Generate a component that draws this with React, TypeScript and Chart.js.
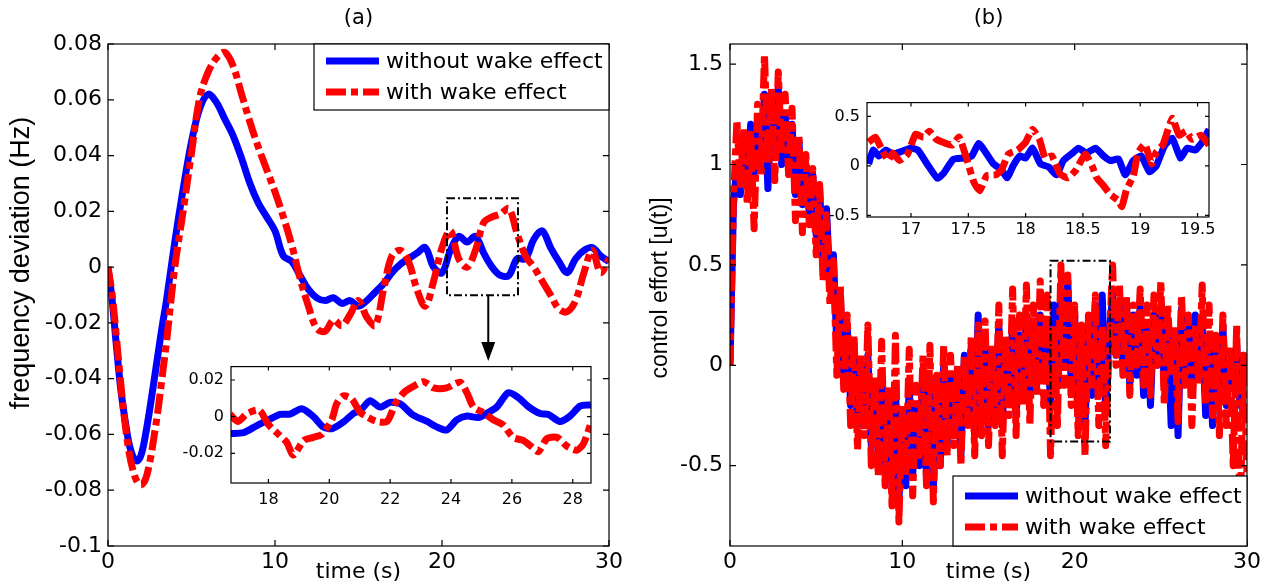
import React, { useEffect, useRef } from "react";
import { Chart, registerables } from "chart.js";

Chart.register(...registerables);

const SANS = "'DejaVu Sans', 'Liberation Sans', sans-serif";
const LABEL_FONT = "'Liberation Sans', Arial, sans-serif";
const BLUE = "#0000ff";
const RED = "#ff0000";
const DASH_DOT = [20, 5, 7, 5];

const SERIES_NAMES = ["without wake effect", "with wake effect"];

// ---------- (a) frequency deviation, full run ----------
const timeA = [
  0, 0.25, 0.5, 0.75, 1, 1.25, 1.5, 1.75, 2, 2.25, 2.5, 2.75, 3, 3.25, 3.5,
  4, 4.5, 5, 5.5, 6, 6.5, 7, 7.5, 8, 8.5, 9, 9.5, 10, 10.5, 11, 11.5, 12,
  12.5, 13, 13.5, 14, 14.5, 15, 15.5, 16, 16.5, 17, 17.5, 18, 18.5, 19, 19.5,
  20, 20.5, 21, 21.5, 22, 22.5, 23, 23.5, 24, 24.5, 25, 25.5, 26, 26.5, 27,
  27.5, 28, 28.5, 29, 29.5, 30,
];
const freqWithout = [
  0, -0.012, -0.028, -0.043, -0.054, -0.063, -0.068, -0.0695, -0.067, -0.06,
  -0.051, -0.041, -0.031, -0.021, -0.012, 0.009, 0.028, 0.045, 0.057, 0.062,
  0.059, 0.053, 0.047, 0.039, 0.03, 0.023, 0.018, 0.013, 0.004, 0.002, -0.003,
  -0.008, -0.011, -0.012, -0.011, -0.013, -0.012, -0.014, -0.012, -0.009,
  -0.006, -0.002, 0.001, 0.003, 0.005, 0.007, 0.0, -0.002, 0.006, 0.011,
  0.009, 0.011, 0.005, 0.0, -0.003, -0.003, 0.003, 0.003, 0.01, 0.013, 0.007,
  0.002, -0.002, 0.003, 0.006, 0.007, 0.004, 0.002,
];
const freqWith = [
  0, -0.01, -0.025, -0.041, -0.055, -0.066, -0.073, -0.077, -0.078, -0.076,
  -0.07, -0.061, -0.051, -0.039, -0.027, 0.0, 0.02, 0.041, 0.061, 0.07,
  0.075, 0.077, 0.072, 0.062, 0.052, 0.043, 0.035, 0.027, 0.018, 0.008,
  -0.004, -0.014, -0.022, -0.023, -0.019, -0.021, -0.017, -0.012, -0.018,
  -0.021, -0.008, 0.004, 0.006, 0.002, -0.008, -0.014, -0.005, 0.007, 0.013,
  0.003, 0.0, 0.006, 0.016, 0.018, 0.019, 0.021, 0.012, 0.004, 0.0, -0.005,
  -0.01, -0.015, -0.016, -0.012, -0.002, 0.006, -0.002, 0.003,
];
// window marked on the main plot: [t0, t1, top, bottom]
const zoomWindowA = [20.3, 24.55, 0.0247, -0.0101];
const arrowA = { t: 22.77, from: -0.0101, to: -0.0337 };

// ---------- (a) inset ----------
const insetTimeWithoutA = [
  16.74, 17.18, 17.62, 18.0, 18.38, 18.71, 19.1, 19.48, 19.8, 20.08, 20.46,
  20.79, 21.07, 21.34, 21.67, 22.0, 22.33, 22.76, 23.2, 23.53, 23.86, 24.19,
  24.52, 24.9, 25.17, 25.5, 25.88, 26.21, 26.54, 26.93, 27.2, 27.58, 27.91,
  28.24, 28.6,
];
const insetFreqWithout = [
  -0.0092, -0.0087, -0.0049, -0.0018, 0.0012, 0.0014, 0.0043, 0, -0.0056,
  -0.0066, -0.003, 0.0017, 0.0043, 0.0087, 0.0052, 0.0078, 0.007, 0.0008,
  -0.0025, -0.0056, -0.0073, -0.0018, 0.0003, -0.0005, 0.0017, 0.0052, 0.013,
  0.0104, 0.0055, 0.0017, 0.0012, -0.0026, 0.0003, 0.0057, 0.0064,
];
const insetTimeWithA = [
  16.74, 17.0, 17.3, 17.7, 18.0, 18.38, 18.6, 18.82, 19.16, 19.48, 19.76,
  20.08, 20.24, 20.46, 20.74, 21.0, 21.23, 21.56, 21.9, 22.17, 22.45, 22.76,
  23.1, 23.43, 23.86, 24.3, 24.52, 24.74, 25.07, 25.4, 25.7, 26.04, 26.37,
  26.65, 26.87, 27.15, 27.48, 27.8, 28.13, 28.35, 28.6,
];
const insetFreqWith = [
  0.0012, -0.0026, 0.0017, 0.0035, -0.0043, -0.0104, -0.014, -0.021, -0.013,
  -0.0113, -0.0096, -0.0018, 0.0069, 0.0113, 0.0096, 0.0026, 0, -0.0026,
  -0.0026, 0.007, 0.0131, 0.0165, 0.0191, 0.0157, 0.0157, 0.0188, 0.0131,
  0.0052, 0.0021, -0.0018, -0.0043, -0.0113, -0.013, -0.0165, -0.0191, -0.012,
  -0.0113, -0.016, -0.0183, -0.0148, -0.0035,
];

// ---------- (b) control effort, sampled every 0.2 s ----------
const SAMPLE_STEP_B = 0.2;
const effortWithout = [
  0, 0.8, 1.0, 0.85, 1.1, 0.9, 1.2, 0.95, 1.18, 1.0,
  1.35, 0.88, 1.3, 1.05, 1.38, 1.0, 1.25, 1.0, 1.2, 0.85,
  1.12, 0.8, 1.0, 0.75, 0.95, 0.65, 0.88, 0.5, 0.78, 0.4,
  0.55, 0.1, 0.35, -0.05, 0.2, -0.2, 0.1, -0.3, 0.0, -0.25,
  0.05, -0.4, -0.1, -0.45, -0.05, -0.55, -0.2, -0.6, -0.1, -0.68,
  -0.3, -0.6, -0.1, -0.55, -0.2, -0.5, -0.05, -0.55, -0.1, -0.62,
  -0.15, -0.5, 0.0, -0.4, -0.05, -0.35, -0.1, -0.45, 0.05, -0.25,
  0.1, -0.35, 0.25, -0.2, 0.15, -0.3, 0.05, -0.2, 0.2, -0.3,
  0.1, -0.15, 0.2, -0.25, 0.15, -0.1, 0.25, -0.15, 0.2, -0.1,
  0.25, -0.05, 0.2, -0.2, 0.3, -0.1, 0.35, 0.0, 0.42, -0.1,
  0.25, -0.25, 0.1, -0.3, 0.2, -0.15, 0.3, -0.1, 0.35, -0.2,
  0.15, 0.35, 0.05, 0.3, 0.0, 0.3, -0.1, 0.25, -0.05, 0.3,
  -0.15, 0.2, -0.2, 0.25, 0.0, 0.3, -0.1, 0.2, -0.3, 0.15,
  -0.35, 0.28, -0.05, 0.2, -0.15, 0.25, -0.05, 0.2, -0.25, 0.15,
  -0.3, 0.1, -0.15, 0.2, -0.2, 0.05, -0.1, 0.1, -0.2, 0.05,
  -0.1,
];
const effortWith = [
  0, 0.82, 1.22, 0.9, 1.18, 0.8, 1.15, 0.68, 1.3, 0.95,
  1.55, 1.0, 1.38, 0.92, 1.46, 1.05, 1.35, 0.95, 1.28, 0.72,
  1.15, 0.66, 1.05, 0.7, 0.98, 0.55, 0.9, 0.42, 0.75, 0.3,
  0.52, -0.05, 0.4, -0.12, 0.25, -0.3, 0.15, -0.42, 0.05, -0.35,
  0.2, -0.5, -0.05, -0.55, 0.12, -0.6, -0.1, -0.7, 0.15, -0.78,
  -0.2, -0.55, 0.08, -0.65, -0.1, -0.45, 0.05, -0.6, 0.1, -0.68,
  -0.05, -0.5, 0.1, -0.45, 0.05, -0.4, 0.0, -0.5, 0.05, -0.3,
  0.15, -0.45, 0.2, -0.35, 0.22, -0.4, 0.1, -0.3, 0.3, -0.45,
  0.15, -0.25, 0.38, -0.35, 0.25, -0.2, 0.4, -0.3, 0.3, -0.15,
  0.42, -0.2, 0.35, -0.45, 0.2, -0.3, 0.5, -0.1, 0.45, -0.2,
  0.3, -0.35, 0.2, -0.45, 0.25, -0.1, 0.35, -0.3, 0.2, -0.4,
  0.1, 0.5, 0.0, 0.4, -0.05, 0.35, -0.15, 0.3, 0.0, 0.38,
  -0.1, 0.3, -0.15, 0.35, 0.0, 0.42, -0.2, 0.3, -0.05, 0.2,
  -0.28, 0.35, -0.1, 0.25, -0.3, 0.2, -0.1, 0.4, -0.2, 0.3,
  -0.25, 0.15, -0.35, 0.25, -0.3, 0.1, -0.5, 0.2, -0.8, 0.05,
  -0.55,
];
const timeB = effortWith.map((_, i) => +(i * SAMPLE_STEP_B).toFixed(1));
const zoomWindowB = [18.6, 22.05, 0.52, -0.38];

// ---------- (b) inset ----------
const insetTimeWithoutB = [
  16.63, 16.67, 16.72, 16.78, 16.84, 16.9, 17.0, 17.06, 17.14, 17.23, 17.28,
  17.37, 17.46, 17.53, 17.59, 17.65, 17.72, 17.79, 17.84, 17.89, 17.95, 18.0,
  18.06, 18.13, 18.2, 18.27, 18.33, 18.42, 18.46, 18.53, 18.61, 18.68, 18.74,
  18.81, 18.87, 18.94, 19.01, 19.08, 19.14, 19.21, 19.28, 19.35, 19.41, 19.48,
  19.54, 19.6,
];
const insetEffortWithout = [
  0.02, 0.16, 0.1, 0.16, 0.12, 0.14, 0.18, 0.16, 0.02, -0.125, -0.08, 0.067,
  0.08, 0.1, 0.227, 0.14, 0.02, -0.04, -0.12, 0.0, 0.1, 0.08, 0.18, 0.02,
  -0.01, -0.09, 0.055, 0.14, 0.18, 0.13, 0.18, 0.1, 0.055, 0.07, -0.09, 0.055,
  0.1, -0.06, 0.0, 0.2, 0.28, 0.08, 0.18, 0.16, 0.24, 0.37,
];
const insetTimeWithB = [
  16.63, 16.69, 16.74, 16.8, 16.84, 16.9, 16.97, 17.04, 17.11, 17.16, 17.22,
  17.28, 17.36, 17.42, 17.49, 17.55, 17.6, 17.66, 17.74, 17.79, 17.85, 17.93,
  18.0, 18.06, 18.12, 18.17, 18.23, 18.3, 18.37, 18.44, 18.52, 18.58, 18.62,
  18.68, 18.74, 18.81, 18.84, 18.88, 18.94, 18.98, 19.04, 19.1, 19.14, 19.2,
  19.28, 19.34, 19.4, 19.45, 19.53, 19.6,
];
const insetEffortWith = [
  0.24, 0.29, 0.18, 0.055, 0.13, 0.055, 0.12, 0.32, 0.29, 0.35, 0.27, 0.24,
  0.21, 0.29, 0.055, -0.17, -0.25, -0.1, -0.09, -0.04, 0.12, 0.16, 0.24, 0.37,
  0.27, 0.08, 0.1, -0.08, -0.12, -0.04, 0.12, 0.0, -0.12, -0.2, -0.29, -0.35,
  -0.41, -0.24, -0.1, 0.13, 0.22, 0.02, 0.14, 0.22, 0.48, 0.31, 0.35, 0.27,
  0.31, 0.21,
];

// ---------- tick values ----------
const mainTimeTicks = [0, 10, 20, 30];
const freqTicks = [-0.1, -0.08, -0.06, -0.04, -0.02, 0, 0.02, 0.04, 0.06, 0.08];
const effortTicks = [-0.5, 0, 0.5, 1, 1.5];
const insetTimeTicksA = [18, 20, 22, 24, 26, 28];
const insetFreqTicks = [-0.02, 0, 0.02];
const insetTimeTicksB = [17, 17.5, 18, 18.5, 19, 19.5];
const insetEffortTicks = [-0.5, 0, 0.5];

// ---------- helpers ----------
type Rect = { left: number; top: number; width: number; height: number };
type Area = { left: number; top: number; right: number; bottom: number };
type AxisSpec = { min: number; max: number; ticks: number[]; font: number; pad: number };
type YLabel = { text: string; x: number; y: number; size: number };
type PanelSpec = {
  box: Rect;
  area: Area;
  x: AxisSpec;
  y: AxisSpec;
  tickLen: number;
  title?: string;
  xTitle?: string;
  yLabel?: YLabel;
  whiteArea?: boolean;
  datasets: any[];
  overlay?: (chart: any) => void;
};

const fmt = (v: any) => String(+Number(v).toFixed(3));

function series(label: string, xs: number[], ys: number[], dashed: boolean, tension: number) {
  return {
    label,
    data: xs.map((x, i) => ({ x, y: ys[i] })),
    borderColor: dashed ? RED : BLUE,
    backgroundColor: dashed ? RED : BLUE,
    borderWidth: 7,
    borderDash: dashed ? DASH_DOT : [],
    borderCapStyle: "butt",
    borderJoinStyle: "round",
    pointRadius: 0,
    tension,
    fill: false,
    clip: 0,
    order: dashed ? 0 : 1,
  };
}

function dashedWindow(chart: any, win: number[]) {
  const { ctx, scales } = chart;
  const l = scales.x.getPixelForValue(win[0]);
  const r = scales.x.getPixelForValue(win[1]);
  const t = scales.y.getPixelForValue(win[2]);
  const b = scales.y.getPixelForValue(win[3]);
  ctx.save();
  ctx.strokeStyle = "#000";
  ctx.lineWidth = 2;
  ctx.setLineDash([8, 3, 2, 3]);
  ctx.strokeRect(l, t, r - l, b - t);
  ctx.restore();
}

function downArrow(chart: any, a: { t: number; from: number; to: number }) {
  const { ctx, scales } = chart;
  const px = scales.x.getPixelForValue(a.t);
  const p0 = scales.y.getPixelForValue(a.from);
  const p1 = scales.y.getPixelForValue(a.to);
  ctx.save();
  ctx.strokeStyle = "#000";
  ctx.fillStyle = "#000";
  ctx.lineWidth = 2;
  ctx.beginPath();
  ctx.moveTo(px, p0);
  ctx.lineTo(px, p1 - 10);
  ctx.stroke();
  ctx.beginPath();
  ctx.moveTo(px - 7, p1 - 19);
  ctx.lineTo(px + 7, p1 - 19);
  ctx.lineTo(px, p1);
  ctx.closePath();
  ctx.fill();
  ctx.restore();
}

function legendBox(chart: any, left: number, top: number, width: number, height: number, rows: number[]) {
  const { ctx } = chart;
  ctx.save();
  ctx.fillStyle = "#fff";
  ctx.fillRect(left, top, width, height);
  ctx.strokeStyle = "#000";
  ctx.lineWidth = 1.2;
  ctx.setLineDash([]);
  ctx.strokeRect(left, top, width, height);
  SERIES_NAMES.forEach((name, i) => {
    const y = top + rows[i];
    ctx.beginPath();
    ctx.setLineDash(i === 0 ? [] : DASH_DOT);
    ctx.lineCap = "butt";
    ctx.lineWidth = 7;
    ctx.strokeStyle = i === 0 ? BLUE : RED;
    ctx.moveTo(left + 12, y);
    ctx.lineTo(left + 65, y);
    ctx.stroke();
    ctx.setLineDash([]);
    ctx.fillStyle = "#000";
    ctx.font = `22px ${SANS}`;
    ctx.textBaseline = "middle";
    ctx.textAlign = "left";
    ctx.fillText(name, left + 72, y + 1);
  });
  ctx.restore();
}

function verticalLabel(chart: any, l: YLabel) {
  const { ctx } = chart;
  ctx.save();
  ctx.translate(l.x, l.y);
  ctx.rotate(-Math.PI / 2);
  ctx.font = `${l.size}px ${LABEL_FONT}`;
  ctx.fillStyle = "#000";
  ctx.textAlign = "center";
  ctx.textBaseline = "middle";
  ctx.fillText(l.text, 0, 0);
  ctx.restore();
}

function framePlugin(p: PanelSpec) {
  return {
    id: "frame",
    beforeDraw(chart: any) {
      if (!p.whiteArea) return;
      const { ctx, chartArea: a } = chart;
      ctx.save();
      ctx.fillStyle = "#fff";
      ctx.fillRect(a.left, a.top, a.right - a.left, a.bottom - a.top);
      ctx.restore();
    },
    afterDraw(chart: any) {
      const { ctx, chartArea: a, scales } = chart;
      const L = p.tickLen;
      ctx.save();
      ctx.strokeStyle = "#000";
      ctx.lineWidth = 1.2;
      ctx.setLineDash([]);
      ctx.strokeRect(a.left, a.top, a.right - a.left, a.bottom - a.top);
      ctx.beginPath();
      p.x.ticks.forEach((v) => {
        const px = scales.x.getPixelForValue(v);
        ctx.moveTo(px, a.bottom);
        ctx.lineTo(px, a.bottom - L);
        ctx.moveTo(px, a.top);
        ctx.lineTo(px, a.top + L);
      });
      p.y.ticks.forEach((v) => {
        const py = scales.y.getPixelForValue(v);
        ctx.moveTo(a.left, py);
        ctx.lineTo(a.left + L, py);
        ctx.moveTo(a.right, py);
        ctx.lineTo(a.right - L, py);
      });
      ctx.stroke();
      ctx.restore();
      if (p.yLabel) verticalLabel(chart, p.yLabel);
      if (p.overlay) p.overlay(chart);
    },
  };
}

function makeConfig(p: PanelSpec): any {
  const titleBlock = p.title ? 44 : 0;
  const axis = (s: AxisSpec, horizontal: boolean) => ({
    type: "linear",
    min: s.min,
    max: s.max,
    afterBuildTicks: (scale: any) => {
      scale.ticks = s.ticks.map((value) => ({ value }));
    },
    afterFit: (scale: any) => {
      if (horizontal) scale.height = p.box.top + p.box.height - p.area.bottom;
      else scale.width = p.area.left - p.box.left;
    },
    grid: { display: false, drawTicks: false },
    border: { display: false },
    ticks: {
      color: "#000",
      font: { family: SANS, size: s.font },
      padding: s.pad,
      maxRotation: 0,
      minRotation: 0,
      autoSkip: false,
      callback: (v: any) => fmt(v),
    },
  });
  const x: any = axis(p.x, true);
  const y: any = axis(p.y, false);
  if (p.xTitle) {
    x.title = {
      display: true,
      text: p.xTitle,
      color: "#000",
      font: { family: SANS, size: 22 },
      padding: { top: 0, bottom: 0 },
    };
  }
  return {
    type: "line",
    data: { datasets: p.datasets },
    options: {
      responsive: false,
      maintainAspectRatio: false,
      animation: false,
      devicePixelRatio: 1,
      events: [],
      layout: {
        autoPadding: false,
        padding: {
          left: 0,
          top: p.area.top - p.box.top - titleBlock,
          right: p.box.left + p.box.width - p.area.right,
          bottom: 0,
        },
      },
      plugins: {
        legend: { display: false },
        tooltip: { enabled: false },
        title: p.title
          ? {
              display: true,
              text: p.title,
              fullSize: false,
              color: "#000",
              font: { family: SANS, size: 21, weight: "normal" },
              padding: { top: 6, bottom: 12.8 },
            }
          : { display: false },
      },
      scales: { x, y },
    },
    plugins: [framePlugin(p)],
  };
}

// ---------- panels ----------
const panels: PanelSpec[] = [
  {
    box: { left: 0, top: 0, width: 640, height: 585 },
    area: { left: 108, top: 44, right: 609, bottom: 546 },
    x: { min: 0, max: 30, ticks: mainTimeTicks, font: 22, pad: 3 },
    y: { min: -0.1, max: 0.08, ticks: freqTicks, font: 22, pad: 6 },
    tickLen: 6,
    title: "(a)",
    xTitle: "time (s)",
    yLabel: { text: "frequency deviation (Hz)", x: 22, y: 263, size: 27 },
    datasets: [
      series(SERIES_NAMES[0], timeA, freqWithout, false, 0.35),
      series(SERIES_NAMES[1], timeA, freqWith, true, 0.35),
    ],
    overlay: (chart) => {
      const a = chart.chartArea;
      dashedWindow(chart, zoomWindowA);
      downArrow(chart, arrowA);
      legendBox(chart, a.right - 295, a.top, 295, 66, [17, 48]);
    },
  },
  {
    box: { left: 180, top: 350, width: 420, height: 160 },
    area: { left: 231, top: 361, right: 591, bottom: 483 },
    x: { min: 16.77, max: 28.6, ticks: insetTimeTicksA, font: 16, pad: 7 },
    y: { min: -0.0362, max: 0.0273, ticks: insetFreqTicks, font: 16, pad: 7 },
    tickLen: 4,
    whiteArea: true,
    datasets: [
      series(SERIES_NAMES[0], insetTimeWithoutA, insetFreqWithout, false, 0.25),
      series(SERIES_NAMES[1], insetTimeWithA, insetFreqWith, true, 0.25),
    ],
  },
  {
    box: { left: 635, top: 0, width: 636, height: 585 },
    area: { left: 730, top: 44, right: 1247, bottom: 546 },
    x: { min: 0, max: 30, ticks: mainTimeTicks, font: 22, pad: 3 },
    y: { min: -0.9, max: 1.6, ticks: effortTicks, font: 22, pad: 7 },
    tickLen: 6,
    title: "(b)",
    xTitle: "time (s)",
    yLabel: { text: "control effort [u(t)]", x: 26, y: 288, size: 23 },
    datasets: [
      series(SERIES_NAMES[0], timeB, effortWithout, false, 0),
      series(SERIES_NAMES[1], timeB, effortWith, true, 0),
    ],
    overlay: (chart) => {
      const a = chart.chartArea;
      dashedWindow(chart, zoomWindowB);
      legendBox(chart, a.right - 294, a.bottom - 70, 294, 70, [20, 51]);
    },
  },
  {
    box: { left: 815, top: 86, width: 410, height: 160 },
    area: { left: 867, top: 96, right: 1209, bottom: 217 },
    x: { min: 16.616, max: 19.6, ticks: insetTimeTicksB, font: 16, pad: 3 },
    y: { min: -0.516, max: 0.64, ticks: insetEffortTicks, font: 16, pad: 7 },
    tickLen: 4,
    whiteArea: true,
    datasets: [
      series(SERIES_NAMES[0], insetTimeWithoutB, insetEffortWithout, false, 0.15),
      series(SERIES_NAMES[1], insetTimeWithB, insetEffortWith, true, 0.15),
    ],
  },
];

export default function App() {
  const canvases = useRef<(HTMLCanvasElement | null)[]>([]);

  useEffect(() => {
    const charts = panels.map((p, i) => new Chart(canvases.current[i] as HTMLCanvasElement, makeConfig(p)));
    return () => charts.forEach((c) => c.destroy());
  }, []);

  return (
    <div
      style={{
        position: "fixed",
        left: 0,
        top: 0,
        width: 1271,
        height: 585,
        background: "#fff",
        overflow: "hidden",
      }}
    >
      {panels.map((p, i) => (
        <canvas
          key={i}
          ref={(el) => {
            canvases.current[i] = el;
          }}
          width={p.box.width}
          height={p.box.height}
          style={{
            position: "absolute",
            left: p.box.left,
            top: p.box.top,
            width: p.box.width,
            height: p.box.height,
          }}
        />
      ))}
    </div>
  );
}
